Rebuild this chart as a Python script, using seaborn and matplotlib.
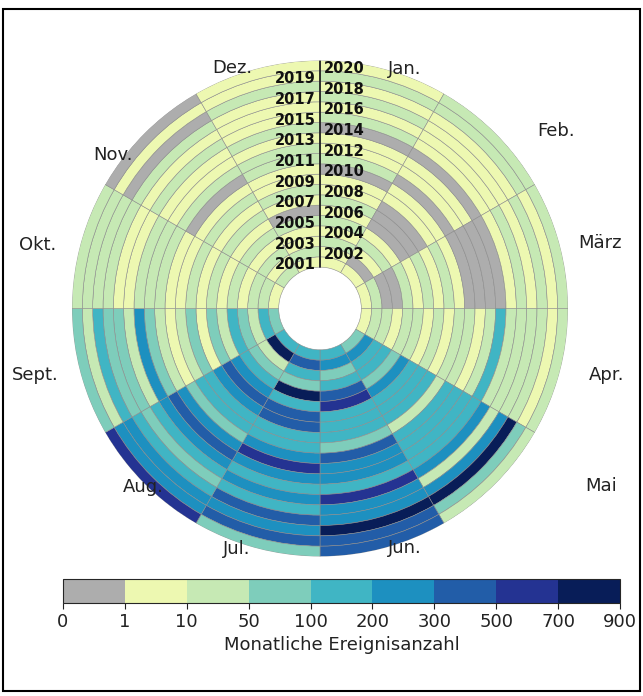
import numpy as np
import matplotlib
matplotlib.use("Agg")
import matplotlib.pyplot as plt
import matplotlib.colors as mcolors
from matplotlib.patches import Rectangle
import seaborn as sns

sns.set_style("white")
plt.rcParams["font.family"] = ["DejaVu Sans"]

# ---- data -------------------------------------------------------------
years = list(range(2001, 2021))
months = ["Jan.", "Feb.", "März", "Apr.", "Mai", "Jun.",
          "Jul.", "Aug.", "Sept.", "Okt.", "Nov.", "Dez."]
bounds = [0, 1, 10, 50, 100, 200, 300, 500, 700, 900]

# monthly event counts, 2001 (inner ring) ... 2020 (outer ring)
jan = [5, 5, 30, 5, 30, 5, 30, 5, 5, 0, 30, 5, 5, 0, 30, 5, 30, 5, 30, 5]
feb = [5, 0, 5, 30, 5, 0, 0, 0, 5, 5, 0, 5, 5, 0, 5, 5, 5, 5, 30, 30]
mar = [5, 30, 0, 0, 30, 5, 30, 5, 30, 5, 0, 0, 0, 0, 5, 30, 5, 30, 5, 30]
apr = [5, 30, 30, 5, 30, 30, 5, 30, 5, 30, 30, 5, 30, 150, 30, 30, 30, 30, 5, 30]
mai = [75, 250, 150, 150, 75, 250, 150, 150, 150, 30, 150, 150, 150, 150, 250, 30, 250, 800, 75, 30]
jun = [150, 250, 75, 150, 400, 600, 150, 150, 150, 75, 400, 250, 250, 150, 600, 250, 250, 800, 400, 400]
jul = [150, 400, 150, 75, 800, 150, 400, 400, 150, 150, 250, 600, 250, 150, 250, 150, 400, 250, 400, 75]
aug = [150, 800, 30, 75, 150, 250, 400, 250, 150, 150, 75, 250, 400, 250, 150, 75, 150, 250, 250, 600]
sep = [75, 150, 30, 75, 150, 30, 75, 5, 75, 30, 5, 30, 75, 250, 30, 75, 75, 150, 30, 75]
okt = [5, 30, 30, 5, 30, 5, 30, 5, 30, 5, 5, 30, 30, 30, 5, 5, 30, 30, 30, 30]
nov = [30, 5, 30, 5, 30, 5, 30, 5, 30, 5, 0, 30, 5, 5, 30, 5, 30, 0, 5, 0]
dez = [5, 30, 5, 5, 30, 0, 5, 30, 5, 5, 30, 30, 5, 30, 5, 5, 5, 30, 5, 5]

counts = [jan, feb, mar, apr, mai, jun, jul, aug, sep, okt, nov, dez]

# ---- colours ----------------------------------------------------------
ylgnbu = sns.color_palette("YlGnBu", as_cmap=True)
colors = ["#adadad"] + [ylgnbu(i / 8) for i in range(1, 9)]
cmap = mcolors.ListedColormap(colors)
norm = mcolors.BoundaryNorm(bounds, cmap.N)

# ---- figure -----------------------------------------------------------
W, H = 643, 696
fig = plt.figure(figsize=(W / 100, H / 100), dpi=100)

ax = fig.add_axes([72 / W, 1 - 556.5 / H, 496 / W, 496 / H], projection="polar")
ax.set_theta_zero_location("N")
ax.set_theta_direction(-1)

hole = 4
n = len(years)
for m, vals in enumerate(counts):
    theta = np.deg2rad(15 + 30 * m)
    ax.bar(np.full(n, theta), np.ones(n), width=np.deg2rad(30),
           bottom=hole + np.arange(n), color=cmap(norm(vals)),
           edgecolor="#8c8c8c", linewidth=0.4, align="center")

ax.plot([0, 0], [hole, hole + n], color="#222222", lw=1.3)
ax.set_ylim(0, hole + n)
ax.set_axis_off()

# year labels along the 12 o'clock line
for k, yr in enumerate(years):
    left = yr % 2 == 1
    ax.annotate(str(yr), xy=(0, hole + k + 0.5), xytext=(-3 if left else 2.5, -2),
                textcoords="offset points", ha="right" if left else "left",
                va="center", fontsize=10.5, fontweight="bold", color="#111111")

# month labels
label_pos = [(405, 69), (556, 131), (600, 243), (607, 375), (601, 486), (405, 548),
             (237, 549), (143, 487), (35, 375), (38, 245), (113, 155), (232, 68)]
for name, (x, y) in zip(months, label_pos):
    fig.text(x / W, 1 - y / H, name, ha="center", va="center", fontsize=13, color="#222222")

# colour bar
cax = fig.add_axes([63 / W, 1 - 603 / H, 557 / W, 24 / H])
cb = fig.colorbar(plt.cm.ScalarMappable(norm=norm, cmap=cmap), cax=cax,
                  orientation="horizontal", ticks=bounds)
cb.ax.tick_params(labelsize=13, length=4, colors="#222222")
cb.set_label("Monatliche Ereignisanzahl", fontsize=13, color="#222222", labelpad=3)
cb.outline.set_linewidth(0.8)

# frame round the figure
fig.patches.append(Rectangle((3 / W, 5 / H), 637 / W, 682 / H, transform=fig.transFigure,
                             fill=False, edgecolor="black", linewidth=1.5))

fig.savefig("out.png", dpi=100)
